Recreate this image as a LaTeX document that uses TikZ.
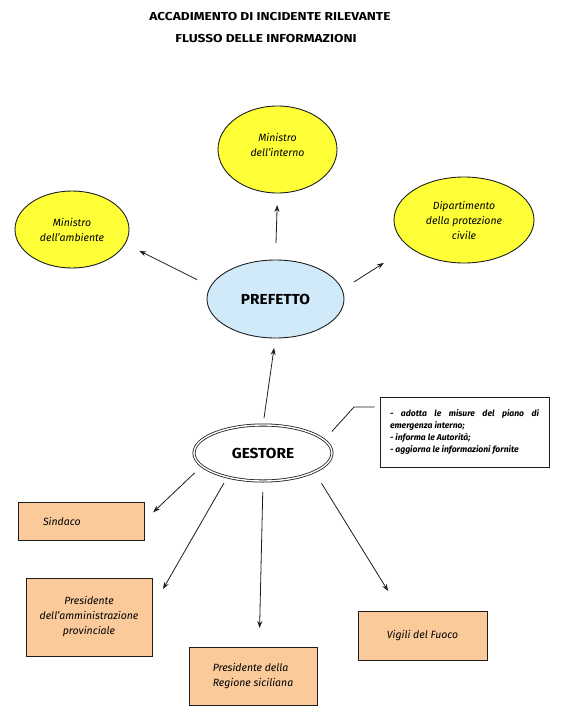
\documentclass[tikz,border=0pt]{standalone}
\usepackage{fontspec}
\setmainfont{Fira Sans}
\newfontfamily\widefont[FakeStretch=1.19]{Fira Sans}
\newfontfamily\semiwide[FakeStretch=1.06]{Fira Sans}
\usetikzlibrary{shapes.geometric,arrows.meta,calc}
\definecolor{yel}{RGB}{255,255,56}
\definecolor{sky}{RGB}{208,234,250}
\definecolor{peach}{RGB}{250,202,155}
\definecolor{ink}{RGB}{30,30,30}
\begin{document}
\begin{tikzpicture}[x=1pt,y=-1pt,
  yell/.style={ellipse,draw=ink,line width=0.9pt,fill=yel,inner sep=0pt,outer sep=0pt,align=center,font=\fontsize{10.5}{15}\selectfont\itshape},
  pbox/.style={rectangle,draw=ink,line width=0.9pt,fill=peach,inner sep=0pt,outer sep=0pt,font=\fontsize{10.5}{15}\selectfont\itshape},
  arr/.style={draw=ink,line width=0.8pt,-{Stealth[length=7pt,width=5pt]}},
  conn/.style={draw=ink,line width=0.8pt},
  ttl/.style={font=\widefont\fontsize{11.5}{13}\selectfont\bfseries},
  big/.style={font=\semiwide\fontsize{14.5}{16}\selectfont\bfseries}]
\useasboundingbox[fill=white] (0,0) rectangle (563,720);
% titles
\node[ttl] (t1) at (270,17) {ACCADIMENTO DI INCIDENTE RILEVANTE};
\node[ttl] (t2) at (266,39) {FLUSSO DELLE INFORMAZIONI};
% ellipses
\node[yell,minimum width=119pt,minimum height=87pt,label={[align=center,font=\fontsize{10.5}{15}\selectfont\itshape,yshift=4.5pt]center:Ministro\\dell'interno}] (int) at (277.5,149.5) {};
\node[yell,minimum width=114pt,minimum height=77pt] (amb) at (72,229.5) {Ministro\\dell'ambiente};
\node[yell,minimum width=140pt,minimum height=86pt] (dip) at (464,220) {Dipartimento\\della protezione\\civile};
\node[ellipse,draw=ink,fill=sky,line width=0.9pt,inner sep=0pt,outer sep=0pt,minimum width=137pt,minimum height=78pt,big] (pref) at (275.5,299) {PREFETTO};
\node[ellipse,draw=ink,double=white,double distance=1.4pt,line width=0.8pt,inner sep=0pt,outer sep=0pt,minimum width=138pt,minimum height=56pt,big] (gest) at (263,453) {GESTORE};
% note box
\node[draw=ink,line width=0.8pt,fill=white,minimum width=169pt,minimum height=70pt,text width=149pt,inner xsep=10pt,inner ysep=0pt,align=justify,font=\fontsize{8.6}{12.3}\selectfont\bfseries\itshape] (txt) at (464.5,432) {- adotta le misure del piano di\linebreak emergenza interno;\\- informa le Autorità;\\- aggiorna le informazioni fornite\par\vspace*{6pt}};
% boxes
\node[pbox,minimum width=126pt,minimum height=38pt,text width=76pt,align=left,inner xsep=25pt] (sind) at (81,521) {Sindaco};
\node[pbox,minimum width=126pt,minimum height=78pt,align=center] (prov) at (89,617) {Presidente\\dell'amministrazione\\provinciale};
\node[pbox,minimum width=128pt,minimum height=58pt,align=left] (reg) at (253,676) {Presidente della\\Regione siciliana};
\node[pbox,minimum width=129pt,minimum height=49pt,align=center] (vig) at (422.5,635.5) {Vigili del Fuoco};
% arrows
\draw[arr,shorten <=17pt,shorten >=12pt] (pref.north) -- (int.south);
\draw[arr,shorten <=15pt,shorten >=16pt] (pref.169) -- (amb.-15);
\draw[arr,shorten <=14pt,shorten >=30pt] (pref.8) -- (dip.206);
\draw[arr,shorten <=7pt,shorten >=10pt] (gest.north) -- (pref.south);
\draw[arr,shorten <=10pt,shorten >=12.6pt] (gest.192) -- (sind.east);
\draw[arr,shorten <=7pt,shorten >=22pt] (gest.214) -- (prov.8);
\draw[arr,shorten <=11pt,shorten >=19pt] (gest.south) -- (reg.78);
\draw[arr,shorten <=13.6pt,shorten >=23.5pt] (gest.-20.5) -- (vig.132);
% connector to note
\coordinate (cb) at (354,407);
\draw[conn,shorten <=11.5pt,shorten >=5pt] (gest.12) -- (cb) -- (cb -| txt.west);
\end{tikzpicture}
\end{document}
